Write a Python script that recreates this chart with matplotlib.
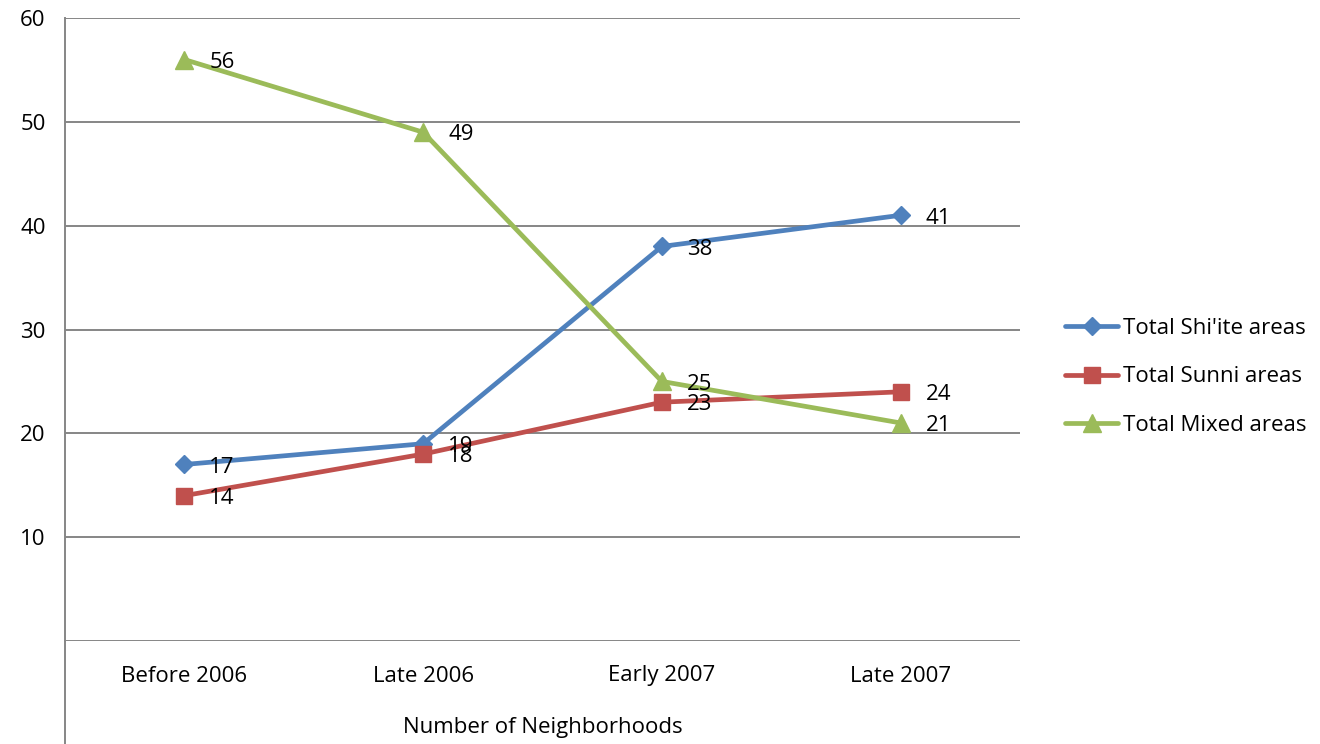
import matplotlib
matplotlib.use("Agg")
import matplotlib.pyplot as plt
from matplotlib.lines import Line2D

categories = ["Before 2006", "Late 2006", "Early 2007", "Late 2007"]
shiite = [17, 19, 38, 41]
sunni = [14, 18, 23, 24]
mixed = [56, 49, 25, 21]
series_names = ["Total Shi'ite areas", "Total Sunni areas", "Total Mixed areas"]
yticks = [10, 20, 30, 40, 50, 60]

plt.rcParams['font.family'] = ['Open Sans', 'DejaVu Sans']
FS = 16

W, H = 1320, 744
fig = plt.figure(figsize=(W / 100, H / 100), dpi=100)
L, R, T, B = 65, 1020, 18, 641
ax = fig.add_axes([L / W, 1 - B / H, (R - L) / W, (B - T) / H])

x = [i + 0.5 for i in range(len(categories))]
grid_c = "#868686"
for y in [0] + yticks:
    ax.axhline(y, color=grid_c, lw=1.4, zorder=1)

styles = [
    (shiite, "#4F81BD", "D", 9),
    (sunni, "#C0504D", "s", 12),
    (mixed, "#9BBB59", "^", 13),
]
handles = []
for (vals, c, m, ms), name in zip(styles, series_names):
    h, = ax.plot(x, vals, color=c, lw=3.4, marker=m, markersize=ms,
                 markeredgecolor=c, zorder=3, label=name, solid_capstyle='round')
    handles.append(h)
    for xi, v in zip(x, vals):
        ax.annotate(str(v), (xi, v), xytext=(18, -2), textcoords="offset points",
                    ha="left", va="center", fontsize=FS, color="black", zorder=4)

ax.set_xlim(0, 4)
ax.set_ylim(0, 60)
ax.set_yticks(yticks)
ax.set_yticklabels([str(t) for t in yticks], fontsize=FS)
ax.tick_params(axis='y', length=0, pad=14)
ax.set_xticks([])
for s in ["top", "right", "bottom"]:
    ax.spines[s].set_visible(False)
ax.spines["left"].set_color(grid_c)
ax.spines["left"].set_linewidth(1.4)

# extended left axis line below plot
fig.add_artist(Line2D([L / W, L / W], [0, 1 - B / H], color=grid_c, lw=1.4,
                      transform=fig.transFigure))

for xi, c in zip(x, categories):
    fig.text((L + (R - L) * xi / 4) / W, 1 - 676 / H, c, ha="center", va="center", fontsize=FS)
fig.text((L + (R - L) * 2 / 4) / W, 1 - 727 / H, "Number of Neighborhoods",
         ha="center", va="center", fontsize=FS)

leg = fig.legend(handles=handles, loc="center left", bbox_to_anchor=(1054 / W, 1 - 377 / H),
                 frameon=False, fontsize=FS, handlelength=2.4, handletextpad=0.2,
                 labelspacing=1.25, borderpad=0)

fig.savefig("out.png", dpi=100)
